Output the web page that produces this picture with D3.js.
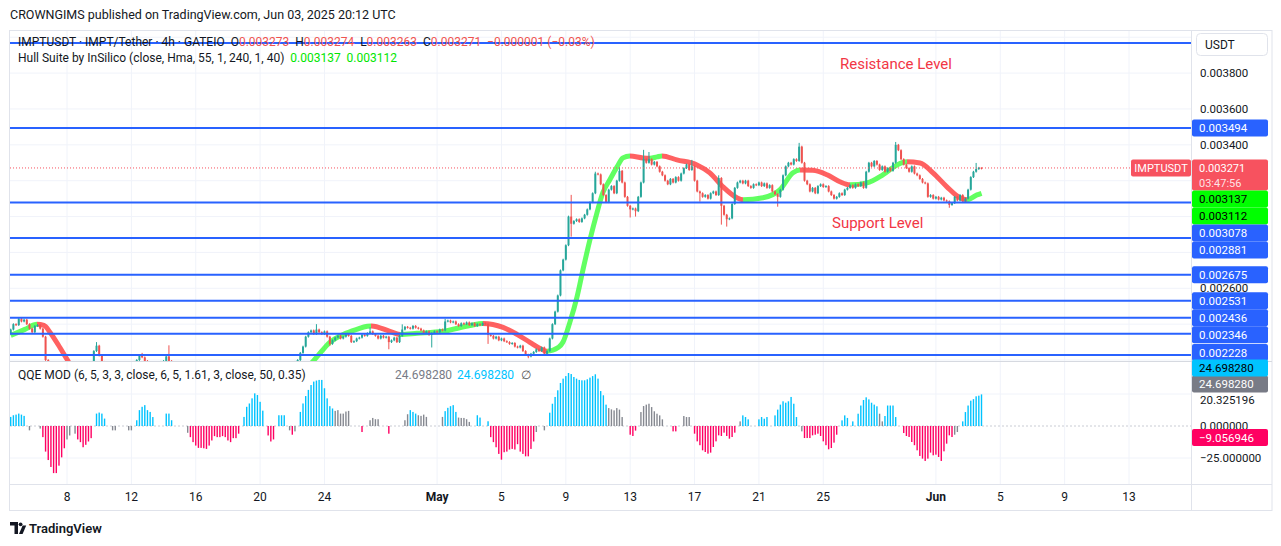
<!DOCTYPE html>
<html><head><meta charset="utf-8">
<script src="https://cdn.jsdelivr.net/npm/d3@7/dist/d3.min.js"></script>
<style>
html,body{margin:0;padding:0;background:#fff;}
svg{display:block;font-family:Roboto,"Noto Sans",sans-serif;}
text{white-space:pre;}
</style></head><body>
<svg id="c" width="1281" height="546"></svg>
<script>
// ---------------- DATA ----------------
const startTime = Date.UTC(2025, 3, 4, 12);      // first visible 4h candle
const candleMs = 4 * 3600 * 1000;
const firstOpen = 2350;                           // micro-USDT
// closes in micro-USDT (x1e-6), one per 4h candle, Apr 4 12:00 -> Jun 3 20:00
const closesMicro = [
2370,2400,2395,
2430,2415,2425,2400,2375,2355,
2390,2395,2375,2330,2200,2140,
2120,2090,2060,2050,2070,2040,
2010,2030,2060,2080,2070,2090,
2110,2130,2150,2180,2250,2280,
2225,2190,2170,2150,2140,2160,
2150,2130,2120,2140,2160,2170,
2180,2190,2200,2225,2215,2195,
2180,2170,2160,2175,2185,2190,
2195,2220,2195,2180,2170,2160,
2150,2140,2130,2120,2110,2120,
2110,2100,2090,2080,2090,2085,
2080,2090,2095,2085,2100,2110,
2105,2100,2110,2120,2115,2125,
2130,2150,2165,2160,2150,2140,
2130,2120,2110,2130,2140,2150,
2160,2170,2165,2175,2180,2170,
2175,2190,2200,2240,2275,2330,
2355,2365,2345,2370,2355,2345,
2360,2330,2290,2310,2325,2335,
2320,2330,2340,2335,2300,2305,
2320,2325,2340,2335,2350,2360,
2345,2335,2320,2335,2325,2330,
2300,2310,2325,2300,2335,2370,
2385,2380,2375,2390,2380,2375,
2365,2350,2360,2340,2350,2360,
2355,2370,2365,2415,2420,2410,
2415,2400,2390,2405,2400,2410,
2395,2405,2390,2400,2395,2405,
2400,2340,2335,2320,2330,2310,
2320,2305,2300,2290,2295,2275,
2270,2280,2250,2230,2220,2235,
2245,2260,2250,2270,2235,2250,
2320,2400,2470,2560,2700,2760,
2840,3000,2960,2975,2985,2970,
2990,3010,3040,3080,3130,3240,
3235,3180,3120,3080,3150,3170,
3130,3200,3255,3190,3110,3060,
3040,3045,3030,3110,3190,3320,
3300,3320,3290,3305,3280,3250,
3230,3200,3180,3210,3190,3220,
3200,3240,3270,3290,3260,3280,
3200,3140,3130,3110,3120,3100,
3130,3140,3120,3215,3060,3010,
2985,2990,3070,3160,3190,3200,
3185,3200,3170,3160,3180,3175,
3190,3170,3185,3160,3175,3140,
3125,3110,3150,3230,3280,3300,
3290,3320,3310,3390,3300,3200,
3180,3140,3160,3130,3170,3180,
3165,3170,3140,3120,3100,3110,
3130,3120,3150,3160,3175,3160,
3180,3170,3190,3160,3250,3300,
3280,3310,3290,3260,3280,3250,
3270,3255,3300,3400,3370,3320,
3290,3270,3250,3280,3240,3230,
3210,3190,3185,3110,3120,3100,
3110,3095,3105,3090,3085,3065,
3075,3110,3090,3120,3085,3100,
3150,3220,3250,3265,3272,3271
];
// notable wick extremes [candle index, price micro]
const highSpikes = [[32,2300],[49,2240],[59,2282],[114,2400],[134,2382],[146,2399],[162,2430],
  [209,3121],[218,3250],[227,3275],[236,3372],[238,3360],[254,3316],[264,3230],[294,3411],[330,3416],[360,3299]];
const lowSpikes = [[119,2280],[141,2260],[157,2270],[178,2290],[193,2210],[209,2888],[231,2995],
  [233,3000],[257,3083],[265,2955],[267,2944],[286,3055],[350,3049]];
const lastBar = {o:0.003273, h:0.003274, l:0.003263, c:0.003271, chg:-0.000001, pct:-0.03};
const countdown = "03:47:56";

// Hull Suite centre line anchors [candle index, price micro]
const hullAnchors = [[0,2337],[5.3,2371],[9.8,2399],[12.4,2393],[14.7,2354],[17.6,2288],[21,2204],[26,2080],
  [40,2000],[70,1990],[100,2060],[110,2150],[114.1,2216],[119,2299],[124,2343],[129,2371],[133,2388],[134.5,2390],
  [141.4,2360],[145.2,2343],[151.5,2349],[161.2,2360],[171.3,2393],[176.1,2404],[183.6,2382],[188.8,2343],
  [193.6,2299],[197.4,2265],[200,2249],[204.3,2271],[205.9,2299],[208.5,2410],[211.2,2554],[213.4,2704],
  [216,2871],[218.6,3021],[220.8,3133],[223.4,3205],[226.1,3277],[228.3,3327],[230.9,3338],[235.8,3327],
  [238.4,3325],[241,3333],[242.9,3338],[248.4,3316],[255.9,3288],[260.7,3244],[265.6,3166],[270.8,3105],
  [273.1,3094],[280.5,3105],[286.8,3149],[291.7,3244],[294.3,3260],[299.1,3258],[304.4,3233],[309.2,3194],
  [312.9,3177],[319.3,3188],[325.2,3233],[330.5,3288],[334.2,3305],[339.1,3299],[343.9,3244],[349.1,3166],
  [354,3105],[356.6,3094],[360.3,3121],[362,3130]];
const hullLast = [0.003137, 0.003112];

// QQE MOD histogram, one value per candle
const qqeValues = [
7.1,8.4,8.9,9.7,8.9,7.9,0,-3.4,0,0,
0,-2,-8.7,-20,-26.6,-32,-36.8,-36.8,-31,-24.5,
-17.4,-10.5,-7.4,0,-6,-10.5,-12.6,-16.6,-14.7,-12.1,
-9.5,0,9.7,10.5,9.7,5.8,0,0,-3.4,-3.4,
0,0,0,0,-3.4,-3.4,0,4.5,12.4,15,
16.3,12.4,11,7,0,0,0,0,9.7,9.7,
4.5,0,0,0,0,0,-5.3,-8.7,-12.6,-15.3,
-17.1,-17.1,-17.4,-17.9,-15.3,-11.3,-7.9,-8.7,-8.7,-7.9,
-8.7,-11.3,-12.6,-9.5,-9.5,-6,0,7.1,15,17.6,
21.6,25.5,24.2,18.9,12,0,-7.4,-12.1,-10.5,0,
8.4,8.4,8.4,0,-3.4,-6.8,-4.2,0,11,17.6,
23.4,28.2,32,34.7,35.5,36,36,29.5,21.6,15.5,
13.7,11.8,12.4,9.7,9.7,11.3,11.8,0,0,0,
0,-4.7,0,0,4.5,6.3,5.3,5.3,0,0,
0,-6,0,0,0,0,0,4.5,9.2,12.4,
11,9.7,8.4,7.9,8.9,7.1,0,0,0,0,
0,7.1,11.6,14.2,15.5,16.3,11,6.6,6.3,6.3,
5.3,3.2,0,0,8.4,6.6,0,0,3.7,-8.7,
-12.6,-16.6,-21.8,-26.3,-20.5,-20,-18.4,-17.9,-18.4,-14.2,
-20,-21.8,-23.7,-23.7,-17.9,-12.1,-4.7,0,0,-3.4,
0,10.4,17.4,22.7,27.9,33.6,37,39,41.4,40.6,
38.3,37,36,35.7,35.7,36.5,37.8,39,40.4,37,
27.3,24,16.7,14,13,12.2,14,12.8,7,0,
0,-6.8,-7.8,-3.6,0,10.9,15.6,16.7,17.4,14.8,
11.5,9.6,8.3,5.2,0,0,0,-4.2,-4.2,0,
0,7.8,7,7,0,-6,-12,-15,-19,-20.3,
-21.6,-20.8,-16.4,-12,-7.3,-7.8,-5.2,-7.8,-9.9,-8.6,
-5.2,0,3.6,8.3,7,5.2,0,0,0,5.2,
7,5.7,7,0,0,8.3,12.8,16.7,19.3,18.2,
19.3,22.7,17.4,7,0,-4.2,-9.4,-9.4,-9.4,-7.3,
-6.8,-6,-7.8,-12,-15,-18.2,-17.2,-13,-6.8,0,
4.4,8.3,6.3,0,3.6,0,9.6,16,20.3,22.4,
20.8,18.2,16.7,15.4,9.6,3.6,7.8,16,16,16,
7,0,0,-5.5,-7.8,-8.6,-12.5,-15,-19,-23.4,
-25.5,-27.3,-25.5,-20.8,-22.9,-22.4,-24.2,-27.3,-19.8,-13.8,
-7.3,-8.6,-6.8,-4.7,0,3.6,10.9,16,19.8,21,
23.2,23.7,24.7
];
// b = above upper threshold (blue), r = below (pink), g = neutral (grey)
const qqeStates = [
"bbbbbbgggg","ggrrrrrrrr","rggggrrrrr","rgbbbbgggg","gggggggbbb","bbbbggggbb","bggggggrrr",
"rrrrrrrrrr","rrrrrrgbbb","bbbbbgrrrg","bbbggrggbb","bbbbbbbbbb","bggggggggg","grgggggggg",
"grgggggggb","bbgggggggg","ggbbbbbggg","ggggbbggbr","rrrrrrrrrr","rrrrrrgggg","gbbbbbbbbb",
"bbbbbbbbbb","bbbggggggg","grrrgggggg","gggggggrrg","gggggrrrrr","rrrrrrrrrr","rggbbbgggb",
"bbbggbbbbb","bbbbggrrrr","rrrrrrrrrg","bbbgbgbbbb","bbbbggbbbb","bggrrrrrrr","rrrrrrrrrr",
"rrgggbbbbb","bbb"].join("").split("");
const qqeLabels = {hist:24.698280, line:24.698280, slow:20.325196, low:-9.056946};

// horizontal levels drawn on chart
const resistanceTop = 0.003968;
const levelLines = [0.003494, 0.003078, 0.002881, 0.002675, 0.002531, 0.002436, 0.002346, 0.002228];
const priceTicks = [0.0022,0.0024,0.0026,0.0028,0.0030,0.0032,0.0034,0.0036,0.0038,0.0040];
const qqeTicks = [20.325196, 0, -25];
const timeTicks = [
  [Date.UTC(2025,3,8),"8"],[Date.UTC(2025,3,12),"12"],[Date.UTC(2025,3,16),"16"],[Date.UTC(2025,3,20),"20"],
  [Date.UTC(2025,3,24),"24"],[Date.UTC(2025,4,1),"May"],[Date.UTC(2025,4,5),"5"],[Date.UTC(2025,4,9),"9"],
  [Date.UTC(2025,4,13),"13"],[Date.UTC(2025,4,17),"17"],[Date.UTC(2025,4,21),"21"],[Date.UTC(2025,4,25),"25"],
  [Date.UTC(2025,5,1),"Jun"],[Date.UTC(2025,5,5),"5"],[Date.UTC(2025,5,9),"9"],[Date.UTC(2025,5,13),"13"]];

// ---------------- LAYOUT ----------------
const L = 10, R = 1191, TOP = 30, PB = 361, QT = 361, QB = 484, AB = 510, FR = 1272;
const C = {up:"#26a69a", down:"#ef5350", blue:"#2962ff", grid:"#f0f3fa", border:"#e0e3eb", text:"#131722",
  red:"#f23645", priceBox:"#f7525f", qb:"#00c3ff", qg:"#868991", qr:"#ff0062"};
const f6 = d3.format(".6f");

const svg = d3.select("#c");
const x = d3.scaleUtc().domain([startTime, Date.UTC(2025,5,13)]).range([10.7, 1129]);
const y = d3.scaleLinear().domain([0.0026, 0.0038]).range([288.3, 73.1]);
const qy = d3.scaleLinear().domain([-25, 25]).range([458, 394]);
const tOf = i => startTime + i * candleMs;

const defs = svg.append("defs");
defs.append("clipPath").attr("id","cp").append("rect").attr("x",L).attr("y",TOP).attr("width",R-L).attr("height",PB-TOP);
defs.append("clipPath").attr("id","cq").append("rect").attr("x",L).attr("y",QT).attr("width",R-L).attr("height",QB-QT);

// grids
const g = svg.append("g");
timeTicks.forEach(([t]) => {
  g.append("line").attr("x1",x(t)).attr("x2",x(t)).attr("y1",TOP).attr("y2",QB).attr("stroke",C.grid).attr("stroke-width",1);
});
priceTicks.forEach(v => {
  const yy = y(v); if (yy < TOP || yy > PB) return;
  g.append("line").attr("x1",L).attr("x2",R).attr("y1",yy).attr("y2",yy).attr("stroke",C.grid);
});
[25,-25].forEach(v => g.append("line").attr("x1",L).attr("x2",R).attr("y1",qy(v)).attr("y2",qy(v)).attr("stroke",C.grid));
g.append("line").attr("x1",L).attr("x2",R).attr("y1",qy(0)).attr("y2",qy(0)).attr("stroke","#c9ccd4").attr("stroke-dasharray","2,2");

// borders
const b = svg.append("g").attr("stroke",C.border).attr("fill","none");
b.append("rect").attr("x",9.5).attr("y",TOP+0.5).attr("width",FR-9.5).attr("height",AB-TOP);
b.append("line").attr("x1",R+0.5).attr("x2",R+0.5).attr("y1",TOP).attr("y2",AB);
b.append("line").attr("x1",L).attr("x2",FR).attr("y1",PB+0.5).attr("y2",PB+0.5).attr("stroke","#d6d9e0");
b.append("line").attr("x1",L).attr("x2",FR).attr("y1",QB+0.5).attr("y2",QB+0.5);

// Hull band with direction colouring via gradient (drawn beneath candles)
const hullPts = hullAnchors.map(([i,v]) => [x(tOf(i)), y(v/1e6)]);
const grad = defs.append("linearGradient").attr("id","hg").attr("gradientUnits","userSpaceOnUse")
  .attr("x1",0).attr("x2",1281).attr("y1",0).attr("y2",0);
for (let k = 0; k < hullAnchors.length - 1; k++) {
  const rising = hullAnchors[k+1][1] >= hullAnchors[k][1];
  const col = rising ? "#00ff00" : "#ff0000";
  grad.append("stop").attr("offset", hullPts[k][0]/1281).attr("stop-color", col);
  grad.append("stop").attr("offset", hullPts[k+1][0]/1281).attr("stop-color", col);
}
const hullLine = d3.line().curve(d3.curveMonotoneX);
const hg = svg.append("g").attr("clip-path","url(#cp)");
hg.append("path").attr("d", hullLine(hullPts)).attr("fill","none").attr("stroke","url(#hg)")
  .attr("stroke-width",5).attr("stroke-opacity",0.62).attr("stroke-linecap","butt");

// candles
const hiMap = new Map(highSpikes), loMap = new Map(lowSpikes);
const candles = closesMicro.map((c,i) => {
  const last = i === closesMicro.length - 1;
  let o = (i === 0 ? firstOpen : closesMicro[i-1]) / 1e6, cl = c / 1e6;
  if (last) { o = lastBar.o; cl = lastBar.c; }
  const pad = 0.000005;
  let h = Math.max(o, cl) + pad, l = Math.min(o, cl) - pad;
  if (hiMap.has(i)) h = Math.max(h, hiMap.get(i)/1e6);
  if (loMap.has(i)) l = Math.min(l, loMap.get(i)/1e6);
  if (last) { h = lastBar.h; l = lastBar.l; }
  return {t:tOf(i), o, c:cl, h, l};
});
const cg = svg.append("g").attr("clip-path","url(#cp)");
const bw = 2;
candles.forEach(d => {
  const col = d.c >= d.o ? C.up : C.down, cx = x(d.t);
  cg.append("line").attr("x1",cx).attr("x2",cx).attr("y1",y(d.h)).attr("y2",y(d.l)).attr("stroke",col).attr("stroke-width",1);
  const y0 = y(Math.max(d.o,d.c)), y1 = y(Math.min(d.o,d.c));
  cg.append("rect").attr("x",cx-bw/2).attr("y",y0).attr("width",bw).attr("height",Math.max(1,y1-y0)).attr("fill",col);
});

// level lines
const lg = svg.append("g");
[resistanceTop, ...levelLines].forEach(v => {
  lg.append("line").attr("x1",L).attr("x2",R).attr("y1",y(v)).attr("y2",y(v)).attr("stroke",C.blue).attr("stroke-width",2);
});
// price line (dotted)
const lastY = y(lastBar.c);
lg.append("line").attr("x1",L).attr("x2",1131).attr("y1",lastY).attr("y2",lastY)
  .attr("stroke",C.priceBox).attr("stroke-width",1).attr("stroke-dasharray","1,2");

// QQE histogram
const qg = svg.append("g").attr("clip-path","url(#cq)");
const qcol = {b:C.qb, g:C.qg, r:C.qr};
qqeValues.forEach((v,i) => {
  if (v === 0) return;
  const cx = x(tOf(i)), a = qy(v), z = qy(0);
  qg.append("rect").attr("x",cx-0.7).attr("y",Math.min(a,z)).attr("width",1.4).attr("height",Math.abs(a-z)).attr("fill",qcol[qqeStates[i]]);
});

// ---------------- TEXT ----------------
const T = svg.append("g").attr("fill",C.text).attr("font-size",12);
T.append("text").attr("x",10).attr("y",19).attr("font-size",12.5).text("CROWNGIMS published on TradingView.com, Jun 03, 2025 20:12 UTC");
const leg1 = T.append("text").attr("x",18).attr("y",46);
leg1.append("tspan").text("IMPTUSDT · IMPT/Tether · 4h · GATEIO  O");
leg1.append("tspan").attr("fill",C.down).text(f6(lastBar.o));
leg1.append("tspan").text("  H");
leg1.append("tspan").attr("fill",C.down).text(f6(lastBar.h));
leg1.append("tspan").text("  L");
leg1.append("tspan").attr("fill",C.down).text(f6(lastBar.l));
leg1.append("tspan").text("  C");
leg1.append("tspan").attr("fill",C.down).text(f6(lastBar.c) + "  \u2212" + f6(Math.abs(lastBar.chg)) + " (\u2212" + Math.abs(lastBar.pct).toFixed(2) + "%)");
const leg2 = T.append("text").attr("x",18).attr("y",62);
leg2.append("tspan").text("Hull Suite by InSilico (close, Hma, 55, 1, 240, 1, 40)  ");
leg2.append("tspan").attr("fill","#00e600").text(f6(hullLast[0]) + "  " + f6(hullLast[1]));
const leg3 = T.append("text").attr("x",18).attr("y",379);
leg3.append("tspan").text("QQE MOD (6, 5, 3, 3, close, 6, 5, 1.61, 3, close, 50, 0.35)");
T.append("text").attr("x",395).attr("y",379).attr("fill","#787b86").text(f6(qqeLabels.line));
T.append("text").attr("x",457).attr("y",379).attr("fill",C.qb).text(f6(qqeLabels.hist));
T.append("text").attr("x",521).attr("y",379).attr("fill","#555").text("\u2205");

// annotations
T.append("text").attr("x",840).attr("y",69).attr("font-size",15).attr("fill",C.red).text("Resistance Level");
T.append("text").attr("x",832).attr("y",228).attr("font-size",15).attr("fill",C.red).text("Support Level");

// time axis
timeTicks.forEach(([t,lab]) => {
  T.append("text").attr("x",x(t)).attr("y",501).attr("text-anchor","middle")
    .attr("font-weight", isNaN(+lab) ? 700 : 400).text(lab);
});

// ---------------- RIGHT AXIS ----------------
const A = svg.append("g").attr("font-size",11.5);
// USDT button
A.append("rect").attr("x",1196.5).attr("y",33.5).attr("width",71).attr("height",22).attr("rx",4)
  .attr("fill","#fff").attr("stroke","#e0e3eb");
A.append("text").attr("x",1205).attr("y",49).attr("fill",C.text).attr("font-size",12).text("USDT");

// colored value labels (stacked to avoid overlap)
const priceLabels = [
  {v:levelLines[0], bg:C.blue, fg:"#fff"},
  {v:lastBar.c, bg:C.priceBox, fg:"#fff", two:true},
  {v:hullLast[0], bg:"#00ff00", fg:"#000"},
  {v:hullLast[1], bg:"#00ff00", fg:"#000"},
  ...levelLines.slice(1).map(v => ({v, bg:C.blue, fg:"#fff"}))
].map(d => ({...d, y:y(d.v), h: d.two ? 31 : 17}));
priceLabels.sort((a,b2) => a.y - b2.y);
priceLabels.forEach((d,i) => {
  d.top = d.y - 8.5;
  if (i > 0) d.top = Math.max(d.top, priceLabels[i-1].top + priceLabels[i-1].h);
});
for (let i = priceLabels.length - 1; i >= 0; i--) {
  const lim = i === priceLabels.length - 1 ? PB : priceLabels[i+1].top;
  if (priceLabels[i].top + priceLabels[i].h > lim) priceLabels[i].top = lim - priceLabels[i].h;
}
// tick labels (hidden where a value label box covers them)
priceTicks.forEach(v => {
  const yy = y(v);
  if (yy < 62 || yy > PB - 4) return;
  if (priceLabels.some(d => yy > d.top - 3 && yy < d.top + d.h + 3)) return;
  A.append("text").attr("x",1200).attr("y",yy+4).attr("fill",C.text).text(f6(v));
});
priceLabels.forEach(d => {
  A.append("rect").attr("x",1192).attr("y",d.top).attr("width",76).attr("height",d.h).attr("rx",2).attr("fill",d.bg);
  A.append("text").attr("x",1199).attr("y",d.top+12.5).attr("fill",d.fg).attr("font-size",d.two?11:11.5).text(f6(d.v));
  if (d.two) A.append("text").attr("x",1199).attr("y",d.top+27.5).attr("fill",d.fg).attr("fill-opacity",0.85).attr("font-size",11).text(countdown);
});
// symbol tag
A.append("rect").attr("x",1131).attr("y",lastY-8.5).attr("width",60).attr("height",17).attr("rx",2).attr("fill",C.priceBox);
A.append("text").attr("x",1161).attr("y",lastY+4).attr("text-anchor","middle").attr("font-size",11).attr("fill","#fff").text("IMPTUSDT");

// QQE axis
qqeTicks.forEach(v => {
  A.append("text").attr("x",1200).attr("y",qy(v)+4).attr("fill",C.text).text(v < 0 ? "\u2212" + f6(-v) : f6(v));
});
const qLabs = [
  {v:qqeLabels.low, bg:C.qr, fg:"#fff"},
  {v:qqeLabels.slow, bg:null, fg:C.text},
  {v:qqeLabels.line, bg:"#787b86", fg:"#fff"},
  {v:qqeLabels.hist, bg:C.qb, fg:"#000"}
].map(d => ({...d, y:qy(d.v)}));
qLabs.forEach((d,i) => { if (i > 0) d.y = Math.min(d.y, qLabs[i-1].y - 16); });
qLabs.forEach(d => {
  if (!d.bg) return; // plain value already drawn as tick text
  A.append("rect").attr("x",1192).attr("y",d.y-8.5).attr("width",76).attr("height",17).attr("rx",2).attr("fill",d.bg);
  A.append("text").attr("x",1199).attr("y",d.y+4.3).attr("fill",d.fg).text(d.v < 0 ? "\u2212" + f6(-d.v) : f6(d.v));
});

// ---------------- FOOTER LOGO ----------------
const F = svg.append("g").attr("fill",C.text);
F.append("path").attr("d","M10,522 h8 v12 h-3.5 v-8.5 h-4.5 z");
F.append("circle").attr("cx",20.6).attr("cy",524.3).attr("r",1.9);
F.append("path").attr("d","M19,534 l3.6,-8.5 h3.6 l-3.6,8.5 z");
F.append("text").attr("x",29).attr("y",533).attr("font-size",13).attr("font-weight",600).text("TradingView");
</script>
</body></html>
